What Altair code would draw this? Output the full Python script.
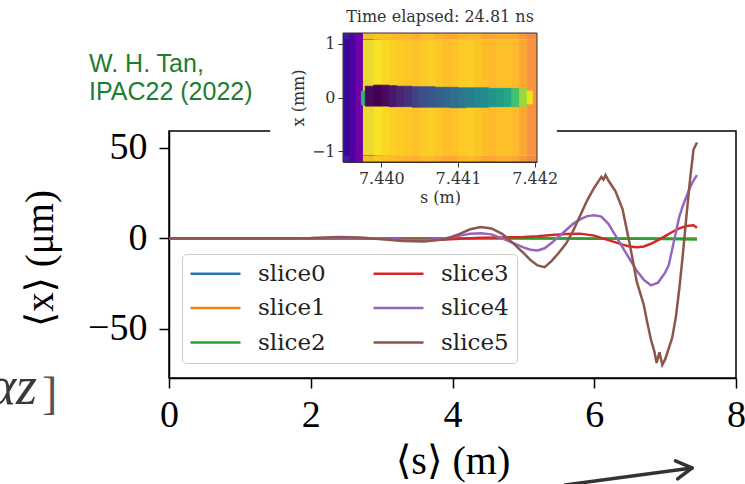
import altair as alt
import pandas as pd

# ---------------- main plot data ----------------
slice_names = ["slice0", "slice1", "slice2", "slice3", "slice4", "slice5"]
slice_colors = ["#1f77b4", "#ff7f0e", "#2ca02c", "#d62728", "#9467bd", "#8c564b"]

s_slice0 = [0.0, 3.0, 6.0, 7.45]
v_slice0 = [0.0, 0.0, 0.0, 0.0]
s_slice1 = [0.0, 3.0, 6.0, 7.45]
v_slice1 = [0.0, 0.0, 0.0, 0.0]
s_slice2 = [0.0, 3.0, 5.0, 6.0, 6.6, 7.0, 7.45]
v_slice2 = [0.0, 0.0, 0.0, -0.2, -0.3, -0.4, -0.6]
s_slice3 = [0.0, 3.0, 3.3, 3.6, 3.9, 4.1, 4.4, 4.7, 5.0, 5.2, 5.4, 5.6, 5.8, 6.0,
            6.2, 6.4, 6.5, 6.6, 6.7, 6.8, 6.9, 7.0, 7.1, 7.2, 7.3, 7.4, 7.45]
v_slice3 = [0.0, 0.0, -0.7, -0.8, -0.6, -0.3, 0.3, 0.5, 0.8, 1.2, 1.8, 2.4, 2.6, 1.5,
            -1.0, -3.5, -4.5, -5.0, -4.5, -3.0, -1.0, 1.2, 3.5, 5.5, 6.8, 7.2, 5.8]
s_slice4 = [0.0, 3.0, 3.3, 3.6, 3.9, 4.1, 4.25, 4.4, 4.55, 4.7,
            4.85, 5.0, 5.1, 5.2, 5.3, 5.4, 5.5, 5.6, 5.7, 5.8,
            5.9, 6.0, 6.1, 6.2, 6.3, 6.4, 6.5, 6.6, 6.7, 6.8,
            6.9, 7.0, 7.05, 7.1, 7.15, 7.2, 7.25, 7.3, 7.35, 7.4, 7.45]
v_slice4 = [0.0, 0.0, -0.8, -1.0, 0.0, 1.5, 2.5, 2.8, 2.2, 0.0,
            -2.5, -5.0, -6.3, -6.7, -5.5, -2.5, 1.0, 4.5, 8.0, 10.5,
            12.3, 12.8, 12.0, 8.0, 1.5, -5.0, -11.5, -18.0, -23.0, -26.0,
            -24.5, -19.0, -15.0, -6.0, 3.0, 12.0, 18.0, 23.0, 28.0, 32.0, 35.0]
s_slice5 = [0.0, 1.0, 2.0, 2.4, 2.7, 3.0, 3.3, 3.6, 3.9, 4.1,
            4.25, 4.4, 4.55, 4.7, 4.85, 5.0, 5.1, 5.2, 5.3, 5.4,
            5.5, 5.6, 5.7, 5.8, 5.9, 6.0, 6.05, 6.1, 6.13, 6.16,
            6.2, 6.3, 6.4, 6.5, 6.6, 6.7, 6.75, 6.8, 6.85, 6.88,
            6.92, 6.96, 7.0, 7.05, 7.1, 7.15, 7.2, 7.25, 7.3, 7.35,
            7.4, 7.45]
v_slice5 = [0.0, 0.0, 0.2, 0.7, 0.5, -0.5, -1.5, -1.8, -0.5, 2.5,
            5.0, 6.3, 5.5, 2.5, -2.5, -8.0, -12.0, -15.0, -16.0, -12.5,
            -8.0, -3.0, 4.0, 12.5, 21.0, 28.0, 31.0, 34.0, 32.5, 35.0,
            32.0, 26.0, 16.0, -3.0, -24.0, -37.0, -47.0, -56.0, -63.0, -69.0,
            -63.0, -70.0, -67.0, -61.0, -55.0, -44.0, -28.0, -9.0, 12.0, 32.0,
            49.0, 53.0]

series_s = [s_slice0, s_slice1, s_slice2, s_slice3, s_slice4, s_slice5]
series_v = [v_slice0, v_slice1, v_slice2, v_slice3, v_slice4, v_slice5]

main_x_ticks = [0, 2, 4, 6, 8]
main_y_ticks = [-50, 0, 50]

# ---------------- inset data ----------------
inset_x_ticks = [7.440, 7.441, 7.442]
inset_y_ticks = [-1, 0, 1]
bg_s_edges = [7.43950, 7.43958, 7.43966, 7.43976, 7.43990, 7.44000, 7.44010, 7.44020,
              7.44030, 7.44040, 7.44050, 7.44060, 7.44070, 7.44080, 7.44090, 7.44100,
              7.44110, 7.44120, 7.44130, 7.44140, 7.44150, 7.44160, 7.44170, 7.44180,
              7.44190, 7.44203]
bg_mid_level = [0.07, 0.13, 0.22, 0.97, 0.95, 0.92, 0.90, 0.89, 0.88, 0.87, 0.89, 0.90,
                0.88, 0.86, 0.87, 0.89, 0.90, 0.88, 0.86, 0.85, 0.87, 0.87, 0.85, 0.80, 0.74]
bg_edge_level = [0.07, 0.13, 0.22, 0.90, 0.88, 0.86, 0.85, 0.84, 0.83, 0.82, 0.85, 0.85,
                 0.82, 0.80, 0.81, 0.84, 0.85, 0.83, 0.80, 0.80, 0.82, 0.82, 0.80, 0.76, 0.72]
beam_s_edges = [7.43974, 7.43979, 7.43990, 7.44000, 7.44010, 7.44020, 7.44030, 7.44040,
                7.44050, 7.44060, 7.44070, 7.44080, 7.44090, 7.44100, 7.44110, 7.44120,
                7.44130, 7.44140, 7.44150, 7.44160, 7.44170, 7.44180, 7.44190, 7.44197]
beam_level = [0.65, 0.02, 0.0, 0.02, 0.06, 0.10, 0.14, 0.19, 0.24, 0.27, 0.30, 0.33,
              0.36, 0.39, 0.42, 0.45, 0.48, 0.52, 0.55, 0.60, 0.70, 0.85, 0.97]
beam_top = [0.12, 0.21, 0.23, 0.23, 0.22, 0.21, 0.21, 0.20, 0.20, 0.20, 0.19, 0.19,
            0.19, 0.18, 0.18, 0.18, 0.18, 0.17, 0.17, 0.17, 0.17, 0.16, 0.12]
beam_bot = [-0.14, -0.16, -0.16, -0.16, -0.17, -0.17, -0.17, -0.18, -0.18, -0.18, -0.18, -0.18,
            -0.19, -0.19, -0.18, -0.18, -0.18, -0.17, -0.17, -0.17, -0.17, -0.16, -0.12]

# ---------------- layout (pixel placement of the two panels) ----------------
W, H = 745, 484
main_x_domain, main_x_range = [0, 8], [169, 736]
main_y_domain, main_y_range = [-77.3, 59.4], [378, 131]
inset_x_domain, inset_x_range = [7.4395, 7.44203], [343, 537]
inset_y_domain, inset_y_range = [-1.2, 1.2], [162, 33]

serif_main = "Liberation Serif, DejaVu Serif"
serif_inset = "DejaVu Serif"

main_xs = alt.Scale(domain=main_x_domain, range=main_x_range, nice=False, zero=False)
main_ys = alt.Scale(domain=main_y_domain, range=main_y_range, nice=False, zero=False)
inset_xs = alt.Scale(domain=inset_x_domain, range=inset_x_range, nice=False, zero=False)
inset_ys = alt.Scale(domain=inset_y_domain, range=inset_y_range, nice=False, zero=False)

main_x_axis = alt.Axis(orient="bottom", offset=main_y_range[0] - H, values=main_x_ticks, format="d",
                       tickSize=10, tickWidth=1.5, tickColor="black", domainColor="black",
                       domainWidth=1.5, labelFont=serif_main, labelFontSize=38, labelColor="black",
                       labelPadding=8, labelFlush=False, labelOverlap=False, grid=False,
                       title="⟨s⟩ (m)", titleFont=serif_main, titleFontSize=40,
                       titleFontWeight="normal", titleColor="black", titlePadding=7)
main_y_axis = alt.Axis(orient="left", offset=-main_x_range[0], values=main_y_ticks, format="d",
                       tickSize=10, tickWidth=1.5, tickColor="black", domainColor="black",
                       domainWidth=1.5, labelFont=serif_main, labelFontSize=38, labelColor="black",
                       labelPadding=12, labelFlush=False, labelOverlap=False, grid=False,
                       title="⟨x⟩ (μm)", titleFont=serif_main, titleFontSize=39,
                       titleFontWeight="normal", titleColor="black", titlePadding=27,
                       titleY=258)
inset_x_axis = alt.Axis(orient="bottom", offset=inset_y_range[0] - H, values=inset_x_ticks,
                        format=".3f", tickSize=5, tickColor="#333", domainColor="#333",
                        labelFont=serif_inset, labelFontSize=16, labelColor="#333", labelPadding=3,
                        labelFlush=False, labelOverlap=False, grid=False, zindex=1,
                        title="s (m)", titleFont=serif_inset, titleFontSize=16,
                        titleFontWeight="normal", titleColor="#333", titlePadding=3)
inset_y_axis = alt.Axis(orient="left", offset=-inset_x_range[0], values=inset_y_ticks, format="d",
                        tickSize=5, tickColor="#333", domainColor="#333",
                        labelFont=serif_inset, labelFontSize=16, labelColor="#333", labelPadding=3,
                        labelFlush=False, labelOverlap=False, grid=False, zindex=1,
                        title="x (mm)", titleFont=serif_inset, titleFontSize=16,
                        titleFontWeight="normal", titleColor="#333", titlePadding=5)


def mx(f):
    return alt.X(f, type="quantitative", scale=main_xs, axis=main_x_axis)


def my(f):
    return alt.Y(f, type="quantitative", scale=main_ys, axis=main_y_axis)


def ix(f):
    return alt.X(f, type="quantitative", scale=inset_xs, axis=inset_x_axis)


def iy(f):
    return alt.Y(f, type="quantitative", scale=inset_ys, axis=inset_y_axis)


# ---------------- main panel ----------------
lines_df = pd.concat(
    [pd.DataFrame({"s": s, "v": v, "slice": n}) for n, s, v in zip(slice_names, series_s, series_v)],
    ignore_index=True)

frame_df = pd.DataFrame({"x0": [main_x_domain[0]], "x1": [main_x_domain[1]],
                         "y0": [main_y_domain[0]], "y1": [main_y_domain[1]]})
frame = alt.Chart(frame_df).mark_rect(filled=False, stroke="black", strokeWidth=1.5).encode(
    x=mx("x0"), x2="x1", y=my("y0"), y2="y1")

legend = alt.Legend(orient="none", legendX=182, legendY=254, columns=2, title=None,
                    symbolType="M-5,0H5", symbolSize=100, symbolStrokeWidth=2.5,
                    symbolOffset=14, labelOffset=31, labelFont=serif_inset, labelFontSize=23,
                    labelColor="#222", labelLimit=0, rowPadding=10.5, columnPadding=42,
                    padding=8, strokeColor="#cccccc", fillColor="rgba(255,255,255,0.8)",
                    cornerRadius=4)
lines = alt.Chart(lines_df).mark_line(strokeWidth=2.5).encode(
    x=mx("s"), y=my("v"),
    color=alt.Color("slice:N", scale=alt.Scale(domain=slice_names, range=slice_colors),
                    legend=legend))

# annotation arrow (in main-axis units, below the plot)
arrow_df = pd.DataFrame({"xa": [5.59, 7.379, 7.379], "ya": [-136.5, -127.1, -127.1],
                         "xb": [7.379, 7.146, 7.176], "yb": [-127.1, -123.2, -133.1]})
arrow = alt.Chart(arrow_df).mark_rule(color="#333333", strokeWidth=3.5, strokeCap="round").encode(
    x=mx("xa"), y=my("ya"), x2="xb", y2="yb")

cite = alt.Chart(pd.DataFrame({"t": ["W. H. Tan,\nIPAC22 (2022)"]})).mark_text(
    align="left", baseline="alphabetic", lineBreak="\n", lineHeight=28,
    font="Liberation Sans", fontSize=25, color="#1e7d32").encode(
    x=alt.value(89), y=alt.value(72), text="t:N")

frag1 = alt.Chart(pd.DataFrame({"t": ["αz"]})).mark_text(
    align="right", baseline="alphabetic", font=serif_main, fontSize=54, fontStyle="italic",
    color="#3a3a3a").encode(x=alt.value(37), y=alt.value(404), text="t:N")
frag2 = alt.Chart(pd.DataFrame({"t": ["]"]})).mark_text(
    align="left", baseline="alphabetic", font=serif_main, fontSize=46,
    color="#555555").encode(x=alt.value(42), y=alt.value(409), text="t:N")

main = alt.layer(frame, lines, arrow, cite, frag1, frag2)

# ---------------- inset panel ----------------
white_df = pd.DataFrame({"x0": [7.43855], "x1": [7.44229], "y0": [-2.0], "y1": [1.82]})
white = alt.Chart(white_df).mark_rect(color="white").encode(
    x=ix("x0"), x2="x1", y=iy("y0"), y2="y1")

bg_rows = []
for i, lev in enumerate(bg_edge_level):
    bg_rows.append({"s0": bg_s_edges[i], "s1": bg_s_edges[-1], "x0": -1.2, "x1": 1.2, "lev": lev})
for i, lev in enumerate(bg_mid_level):
    bg_rows.append({"s0": bg_s_edges[i], "s1": bg_s_edges[-1], "x0": -1.08, "x1": 1.08, "lev": lev})
bg = alt.Chart(pd.DataFrame(bg_rows)).mark_rect(strokeWidth=0, opacity=0.92).encode(
    x=ix("s0"), x2="s1", y=iy("x0"), y2="x1",
    fill=alt.Fill("lev:Q", scale=alt.Scale(scheme="plasma", domain=[0, 1]), legend=None))

beam_df = pd.DataFrame({"s0": beam_s_edges[:-1], "s1": beam_s_edges[1:],
                        "x0": beam_bot, "x1": beam_top, "lev": beam_level})
beam = alt.Chart(beam_df).mark_rect(strokeWidth=0.8).encode(
    x=ix("s0"), x2="s1", y=iy("x0"), y2="x1",
    color=alt.Color("lev:Q", scale=alt.Scale(scheme="viridis", domain=[0, 1]), legend=None),
    stroke=alt.Stroke("lev:Q", scale=alt.Scale(scheme="viridis", domain=[0, 1]), legend=None))

iframe_df = pd.DataFrame({"x0": [inset_x_domain[0]], "x1": [inset_x_domain[1]],
                          "y0": [inset_y_domain[0]], "y1": [inset_y_domain[1]]})
iframe = alt.Chart(iframe_df).mark_rect(filled=False, stroke="#333333", strokeWidth=1).encode(
    x=ix("x0"), x2="x1", y=iy("y0"), y2="y1")

ititle = alt.Chart(pd.DataFrame({"t": ["Time elapsed: 24.81 ns"]})).mark_text(
    align="center", baseline="middle", font=serif_inset, fontSize=16, color="#333333").encode(
    x=alt.value(440), y=alt.value(17), text="t:N")

inset = alt.layer(white, bg, beam, iframe, ititle)

chart = alt.layer(main, inset).resolve_scale(
    x="independent", y="independent", color="independent"
).properties(
    width=W, height=H, autosize=alt.AutoSizeParams(type="none"), padding=0, background="white"
).configure_view(stroke=None)

chart.save("out.html", embed_options={"renderer": "svg", "actions": False})
